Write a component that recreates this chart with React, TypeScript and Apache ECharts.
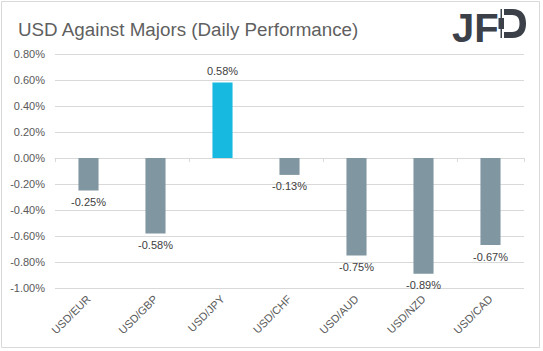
import React, { useEffect, useRef } from "react";
import * as echarts from "echarts";

const categories = ["USD/EUR", "USD/GBP", "USD/JPY", "USD/CHF", "USD/AUD", "USD/NZD", "USD/CAD"];
const values = [-0.25, -0.58, 0.58, -0.13, -0.75, -0.89, -0.67];
const highlight = "USD/JPY";
const yMin = -1.0;
const yMax = 0.8;
const yStep = 0.2;

const GRAY_BAR = "#8096a0";
const BLUE_BAR = "#17b9e0";
const LOGO = "#3b4049";

echarts.graphic.registerShape(
  "jfdBowl",
  echarts.graphic.extendPath(
    "M0,0 H8 C19,0 22,7 22,14.5 C22,22 19,29 8,29 H0 V23 H8 C14,23 15.5,19 15.5,14.5 C15.5,10 14,6 8,6 H0 Z",
    {}
  ) as any
);

export default function App() {
  const ref = useRef<HTMLDivElement>(null);
  useEffect(() => {
    if (!ref.current) return;
    const chart = echarts.init(ref.current, null, { renderer: "svg" });
    const data = values.map((v, i) => ({
      value: v,
      itemStyle: { color: categories[i] === highlight ? BLUE_BAR : GRAY_BAR },
      label: { position: v >= 0 ? "top" : "bottom" },
    }));
    chart.setOption({
      animation: false,
      backgroundColor: "#ffffff",
      textStyle: { fontFamily: "Liberation Sans" },
      title: {
        text: "USD Against Majors (Daily Performance)",
        left: 13,
        top: 15,
        textStyle: { fontFamily: "Liberation Sans", fontSize: 18.8, fontWeight: "normal", color: "#5f5f5f" },
      },
      grid: { left: 55, right: 19, top: 54, bottom: 63, containLabel: false },
      xAxis: [
        {
          type: "category",
          data: categories,
          position: "bottom",
          axisLine: { show: false, onZero: false },
          axisTick: { show: false },
          axisLabel: { rotate: 45, fontSize: 11, color: "#595959", margin: 9, fontFamily: "Liberation Sans" },
        },
        {
          type: "category",
          data: categories,
          position: "bottom",
          axisLine: { show: true, onZero: true, lineStyle: { color: "#d9d9d9", width: 1 } },
          axisTick: { show: true, length: 4, inside: false, lineStyle: { color: "#d9d9d9" } },
          axisLabel: { show: false },
        },
      ],
      yAxis: {
        type: "value",
        min: yMin,
        max: yMax,
        interval: yStep,
        axisLine: { show: false },
        axisTick: { show: false },
        splitLine: { lineStyle: { color: "#d9d9d9", width: 1 } },
        axisLabel: {
          fontSize: 11,
          color: "#595959",
          margin: 10,
          fontFamily: "Liberation Sans",
          formatter: (v: number) => v.toFixed(2) + "%",
        },
      },
      series: [
        {
          type: "bar",
          xAxisIndex: 0,
          data,
          barWidth: "30%",
          label: {
            show: true,
            fontSize: 11,
            color: "#404040",
            distance: 6,
            fontFamily: "Liberation Sans",
            formatter: (p: any) => p.value.toFixed(2) + "%",
          },
        },
      ],
      graphic: [
        {
          type: "rect",
          shape: { x: 1.5, y: 1.5, width: 538, height: 346 },
          style: { fill: "none", stroke: "#d9d9d9", lineWidth: 1 },
          silent: true,
        },
        {
          type: "text",
          x: 452,
          y: 8,
          style: {
            text: "JF",
            fill: LOGO,
            font: "bold 40px 'Liberation Sans'",
            textVerticalAlign: "top",
          },
        },
        {
          type: "jfdBowl",
          x: 504,
          y: 9,
          style: { fill: LOGO },
        },
        {
          type: "rect",
          shape: { x: 500.5, y: 9, width: 1.5, height: 29 },
          style: { fill: LOGO },
        },
        {
          type: "rect",
          shape: { x: 498.5, y: 18, width: 5.5, height: 11 },
          style: { fill: LOGO },
        },
      ],
    });
    return () => chart.dispose();
  }, []);
  return (
    <div
      ref={ref}
      style={{ position: "fixed", left: 0, top: 0, width: 543, height: 351, background: "#fff" }}
    />
  );
}
